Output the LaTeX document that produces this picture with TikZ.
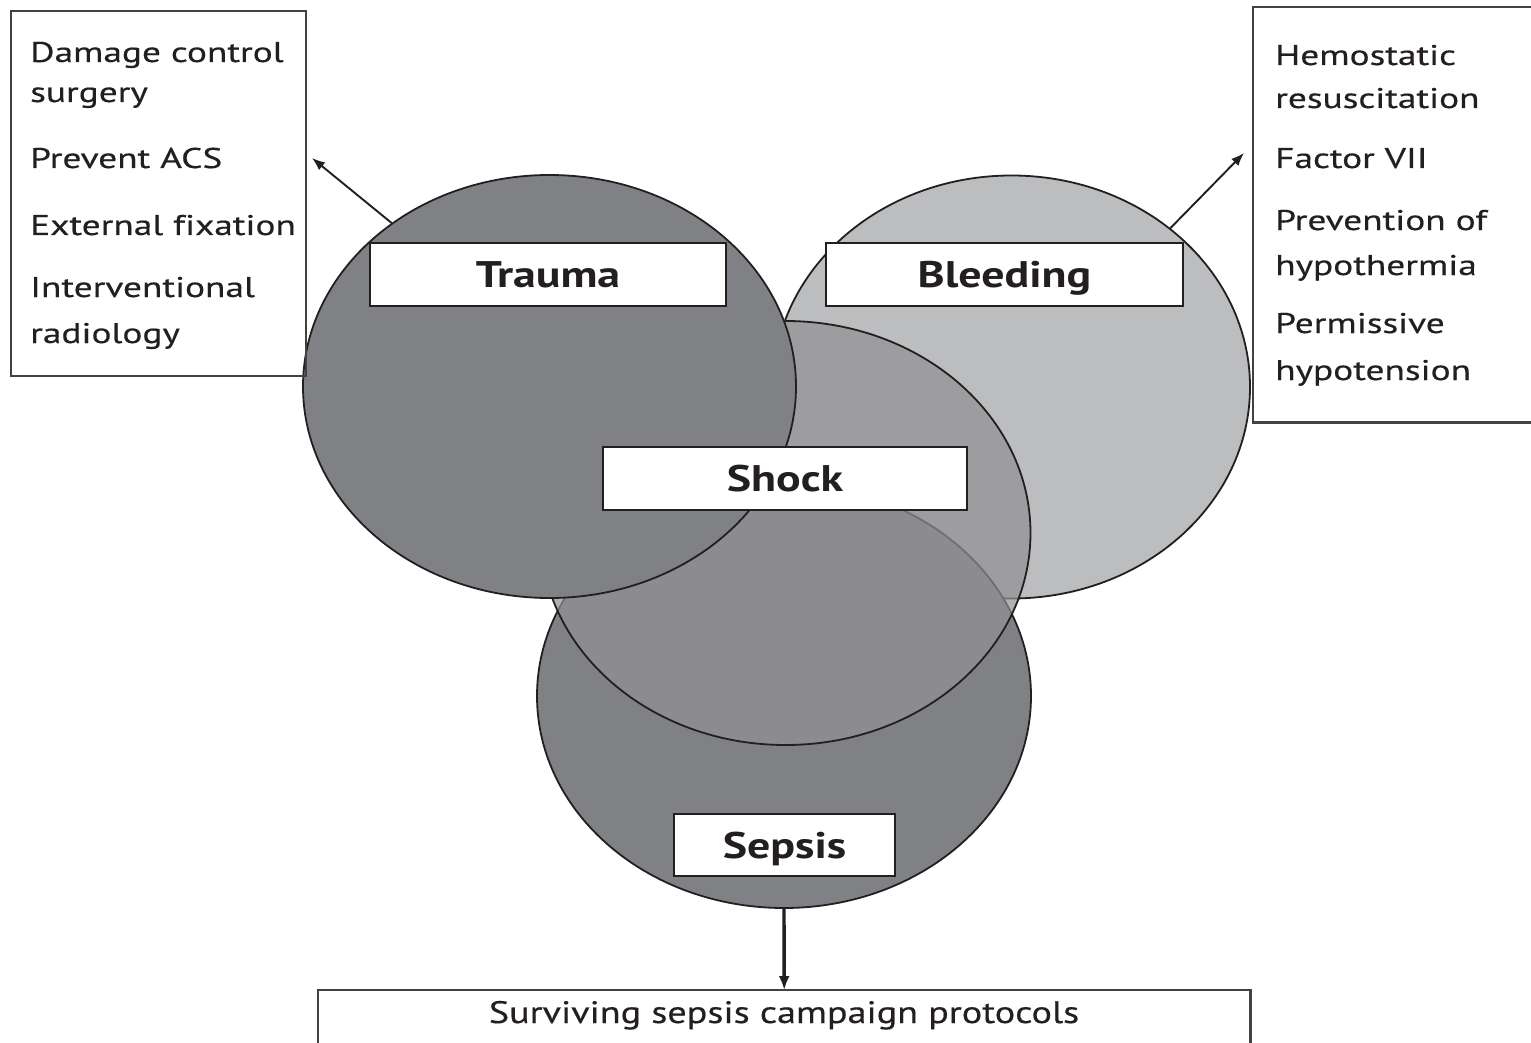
\documentclass[tikz,border=0pt]{standalone}
\usepackage{fontspec}
\setmainfont{PT Sans}
\newfontfamily\itemfont{PT Sans}[FakeStretch=1.31,FakeBold=0.4,Ligatures=NoCommon]
\newfontfamily\tagfont{PT Sans}[FakeStretch=1.24]
\newfontfamily\wideprotfont{PT Sans}[FakeStretch=1.23,FakeBold=0.4]
\usetikzlibrary{shapes.geometric,arrows.meta}
\definecolor{ink}{HTML}{231F20}
\definecolor{darkfill}{HTML}{808184}
\definecolor{lightfill}{HTML}{BCBDBF}
\definecolor{shockfill}{HTML}{919193}
\begin{document}
\begin{tikzpicture}[x=1pt,y=-1pt,
  blob/.style={ellipse, draw=ink, line width=1.8pt, inner sep=0pt},
  tag/.style={draw=ink, fill=white, line width=2pt, inner sep=0pt, text=ink,
    font=\tagfont\fontsize{37}{40}\selectfont\bfseries, text height=26pt, text depth=0pt},
  boxline/.style={draw=ink!85, line width=2.2pt, inner sep=0pt},
  item/.style={anchor=base west, inner sep=0pt, text=ink, font=\itemfont\fontsize{28.5}{34}\selectfont},
  link/.style={draw=ink, line width=1.9pt, -{Latex[length=13pt,width=10pt]}}
]
\clip (0,0) rectangle (1531,1043);
\fill[white] (0,0) rectangle (1531,1043);

% circles
\node[blob, fill=lightfill, minimum width=477pt, minimum height=423pt] (bleeding) at (1011.5,387) {};
\node[blob, fill=darkfill, minimum width=494pt, minimum height=424pt] (sepsis) at (784,696) {};
\node[blob, fill=shockfill, fill opacity=0.71, minimum width=490pt, minimum height=424pt] (shock) at (785.5,533) {};
\node[blob, fill=darkfill, minimum width=493pt, minimum height=423pt] (trauma) at (549.5,386.5) {};

% labels
\node[tag, minimum width=356pt, minimum height=63pt] (traumatag) at (548,274.5) {Trauma};
\node[tag, minimum width=357pt, minimum height=63pt] (bleedtag) at (1004.5,274.5) {Bleeding};
\node[tag, minimum width=364pt, minimum height=63pt] (shocktag) at (785,478.5) {Shock};
\node[tag, minimum width=221pt, minimum height=62pt] (sepsistag) at (784.5,845) {Sepsis};

% left box
\node[boxline, anchor=north west, minimum width=295pt, minimum height=365pt] (leftbox) at (10,10) {};
\node[item] (l1) at (30,62) {Damage control};
\node[item] (l2) at (30,102) {surgery};
\node[item] (l3) at (30,168) {Prevent ACS};
\node[item] (l4) at (30,235) {External fixation};
\node[item] (l5) at (30,297) {Interventional};
\node[item] (l6) at (30,343) {radiology};

% right box
\node[inner sep=0pt, anchor=north west, minimum width=282pt, minimum height=415pt] (rightbox) at (1253,7) {};
\draw[boxline] (rightbox.north east) -- (rightbox.north west) -- (rightbox.south west) -- (rightbox.south east);
\node[item] (r1) at (1275,65) {Hemostatic};
\node[item] (r2) at (1275,108) {resuscitation};
\node[item] (r3) at (1275,168) {Factor VII};
\node[item] (r4) at (1275,230) {Prevention of};
\node[item] (r5) at (1275,275) {hypothermia};
\node[item] (r6) at (1275,333) {Permissive};
\node[item] (r7) at (1275,380) {hypotension};

% bottom box
\node[inner sep=0pt, anchor=north west, minimum width=932pt, minimum height=60pt] (bottombox) at (318,990) {};
\draw[boxline] (bottombox.south west) -- (bottombox.north west) -- (bottombox.north east) -- (bottombox.south east);
\node[anchor=base, inner sep=0pt, text=ink, font=\wideprotfont\fontsize{31}{34}\selectfont] (protocols) at (784,1023) {Surviving sepsis campaign protocols};

% arrows
\coordinate (ltip) at (312,158);
\coordinate (rtip) at (1244,153);
\draw[link] (trauma.134.6) -- (ltip);
\draw[link] (bleeding.45) -- (rtip);
\draw[link, line width=3.4pt, -{Latex[length=14pt,width=11pt]}] (sepsis.south) -- (bottombox.north);
\end{tikzpicture}
\end{document}
